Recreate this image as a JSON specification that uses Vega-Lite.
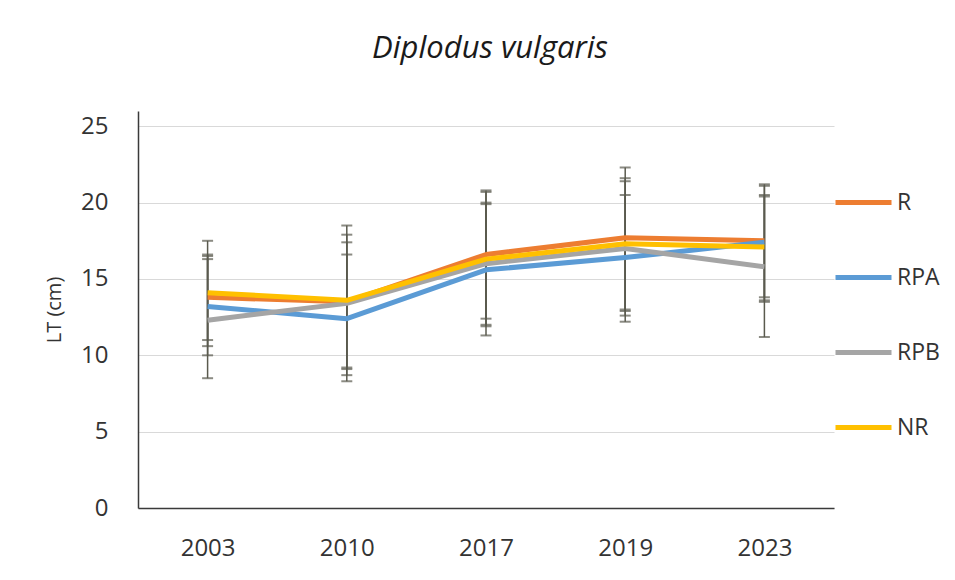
{
  "$schema": "https://vega.github.io/schema/vega-lite/v6.json",
  "width": 696,
  "height": 397,
  "autosize": {"type": "none"},
  "padding": {"left": 138, "top": 111, "right": 121, "bottom": 72},
  "background": "white",
  "title": {
    "text": "Diplodus vulgaris",
    "font": "Open Sans",
    "fontStyle": "italic",
    "fontWeight": "normal",
    "fontSize": 31,
    "color": "#1a1a1a",
    "anchor": "middle",
    "baseline": "alphabetic",
    "dx": 4,
    "offset": 22
  },
  "data": {
    "values": [
      {"year": "2003", "series": "R", "value": 13.8, "lo": 11.0, "hi": 16.6},
      {"year": "2010", "series": "R", "value": 13.5, "lo": 9.1, "hi": 17.9},
      {"year": "2017", "series": "R", "value": 16.6, "lo": 12.4, "hi": 20.8},
      {"year": "2019", "series": "R", "value": 17.7, "lo": 13.0, "hi": 22.3},
      {"year": "2023", "series": "R", "value": 17.5, "lo": 13.8, "hi": 21.2},
      {"year": "2003", "series": "RPA", "value": 13.2, "lo": 10.0, "hi": 16.3},
      {"year": "2010", "series": "RPA", "value": 12.4, "lo": 8.3, "hi": 16.6},
      {"year": "2017", "series": "RPA", "value": 15.6, "lo": 11.3, "hi": 19.9},
      {"year": "2019", "series": "RPA", "value": 16.4, "lo": 12.2, "hi": 20.5},
      {"year": "2023", "series": "RPA", "value": 17.4, "lo": 13.6, "hi": 21.1},
      {"year": "2003", "series": "RPB", "value": 12.3, "lo": 8.5, "hi": 16.5},
      {"year": "2010", "series": "RPB", "value": 13.4, "lo": 9.2, "hi": 17.4},
      {"year": "2017", "series": "RPB", "value": 16.0, "lo": 12.0, "hi": 20.0},
      {"year": "2019", "series": "RPB", "value": 17.0, "lo": 12.6, "hi": 21.4},
      {"year": "2023", "series": "RPB", "value": 15.8, "lo": 11.2, "hi": 20.4},
      {"year": "2003", "series": "NR", "value": 14.1, "lo": 10.6, "hi": 17.5},
      {"year": "2010", "series": "NR", "value": 13.6, "lo": 8.7, "hi": 18.5},
      {"year": "2017", "series": "NR", "value": 16.3, "lo": 11.9, "hi": 20.7},
      {"year": "2019", "series": "NR", "value": 17.3, "lo": 12.9, "hi": 21.6},
      {"year": "2023", "series": "NR", "value": 17.1, "lo": 13.5, "hi": 20.5}
    ]
  },
  "encoding": {
    "x": {
      "field": "year",
      "type": "ordinal",
      "scale": {"type": "point", "padding": 0.5},
      "axis": {
        "title": null,
        "labelAngle": 0,
        "labelFont": "Open Sans",
        "labelFontSize": 24,
        "labelColor": "#333333",
        "labelPadding": 28,
        "ticks": false,
        "grid": false,
        "domainColor": "#3a3a3a",
        "domainWidth": 1.5
      }
    }
  },
  "layer": [
    {
      "mark": {"type": "rule", "color": "#5a5a4e", "strokeWidth": 1.5},
      "encoding": {
        "y": {"field": "lo", "type": "quantitative"},
        "y2": {"field": "hi"}
      }
    },
    {
      "mark": {"type": "tick", "color": "#5a5a4e", "orient": "horizontal", "size": 11, "thickness": 2},
      "encoding": {"y": {"field": "lo", "type": "quantitative"}}
    },
    {
      "mark": {"type": "tick", "color": "#5a5a4e", "orient": "horizontal", "size": 11, "thickness": 2},
      "encoding": {"y": {"field": "hi", "type": "quantitative"}}
    },
    {
      "mark": {"type": "line", "strokeWidth": 5, "strokeJoin": "round"},
      "encoding": {
        "y": {
          "field": "value",
          "type": "quantitative",
          "scale": {"domain": [0, 25]},
          "axis": {
            "title": "LT (cm)",
            "titleFont": "Open Sans",
            "titleFontSize": 20,
            "titleFontWeight": "normal",
            "titleColor": "#333333",
            "titlePadding": 16,
            "values": [0, 5, 10, 15, 20, 25],
            "labelFont": "Open Sans",
            "labelFontSize": 24,
            "labelColor": "#333333",
            "labelPadding": 30,
            "ticks": false,
            "grid": true,
            "gridColor": "#d9d9d9",
            "gridWidth": 1,
            "domainColor": "#3a3a3a",
            "domainWidth": 1.5
          }
        },
        "color": {
          "field": "series",
          "type": "nominal",
          "scale": {"domain": ["R", "RPA", "RPB", "NR"], "range": ["#ED7D31", "#5B9BD5", "#A5A5A5", "#FFC000"]},
          "legend": {
            "title": null,
            "orient": "none",
            "legendX": 695,
            "legendY": 61,
            "symbolType": "stroke",
            "symbolSize": 3136,
            "symbolStrokeWidth": 5,
            "labelFont": "Open Sans",
            "labelFontSize": 23,
            "labelColor": "#333333",
            "labelOffset": 3,
            "rowPadding": 32
          }
        }
      }
    }
  ],
  "config": {
    "view": {"stroke": null}
  }
}
